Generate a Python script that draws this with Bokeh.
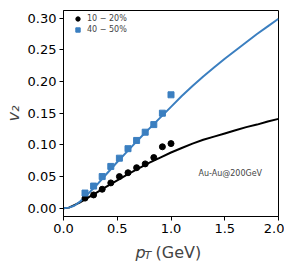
from bokeh.plotting import figure
from bokeh.models import Range1d, Legend, LegendItem, Label, FixedTicker, NumeralTickFormatter
from bokeh.embed import file_html
from bokeh.resources import INLINE

# data points
pt_pts = [0.20, 0.28, 0.36, 0.44, 0.52, 0.60, 0.68, 0.76, 0.84, 0.92, 1.00]
v2_1020 = [0.016, 0.021, 0.030, 0.040, 0.050, 0.056, 0.064, 0.070, 0.080, 0.097, 0.102]
v2_4050 = [0.024, 0.035, 0.050, 0.066, 0.079, 0.094, 0.107, 0.120, 0.132, 0.150, 0.179]

# model curves
pt_curve = [0.0, 0.05, 0.1, 0.15, 0.2, 0.3, 0.4, 0.5, 0.6, 0.7, 0.8, 0.9, 1.0,
            1.1, 1.2, 1.3, 1.4, 1.5, 1.6, 1.7, 1.8, 1.9, 2.0]
curve_4050 = [0.0, 0.001, 0.004, 0.010, 0.018, 0.035, 0.054, 0.073, 0.091, 0.109, 0.126, 0.143, 0.160,
              0.177, 0.193, 0.208, 0.222, 0.236, 0.249, 0.262, 0.275, 0.287, 0.299]
curve_1020 = [0.0, 0.001, 0.005, 0.009, 0.014, 0.024, 0.034, 0.044, 0.054, 0.063, 0.072, 0.080, 0.088,
              0.095, 0.102, 0.108, 0.113, 0.118, 0.123, 0.128, 0.132, 0.137, 0.141]

x_ticks = [0.0, 0.5, 1.0, 1.5, 2.0]
y_ticks = [0.00, 0.05, 0.10, 0.15, 0.20, 0.25, 0.30]

BLUE = "#3b7fc0"
FONT = "DejaVu Sans"

p = figure(output_backend="svg", toolbar_location=None,
           frame_width=215, frame_height=206,
           min_border_left=62, min_border_right=6, min_border_top=10, min_border_bottom=41,
           x_range=Range1d(0, 2.0), y_range=Range1d(-0.013, 0.312))
p.background_fill_color = "white"
p.border_fill_color = "white"
p.outline_line_color = "black"
p.outline_line_width = 1
p.grid.visible = False

for ax in (p.xaxis[0], p.yaxis[0]):
    ax.axis_line_color = "black"
    ax.major_tick_line_color = "black"
    ax.major_tick_in = 0
    ax.major_tick_out = 4
    ax.minor_tick_line_color = None
    ax.major_label_text_font = FONT
    ax.major_label_text_font_size = "13px"
    ax.major_label_text_color = "black"
    ax.major_label_standoff = 3

p.xaxis.ticker = FixedTicker(ticks=x_ticks)
p.yaxis.ticker = FixedTicker(ticks=y_ticks)
p.xaxis.formatter = NumeralTickFormatter(format="0.0")
p.yaxis.formatter = NumeralTickFormatter(format="0.00")

p.yaxis.axis_label = "v₂"
p.yaxis.axis_label_text_font = FONT
p.yaxis.axis_label_text_font_style = "italic"
p.yaxis.axis_label_text_font_size = "16px"
p.yaxis.axis_label_standoff = 2

l1 = p.line(pt_curve, curve_1020, line_color="black", line_width=2)
l2 = p.line(pt_curve, curve_4050, line_color=BLUE, line_width=2)
s1 = p.scatter(pt_pts, v2_1020, marker="circle", size=6, fill_color="black", line_color="black")
s2 = p.scatter(pt_pts, v2_4050, marker="square", size=6, fill_color=BLUE, line_color=BLUE)

legend = Legend(items=[LegendItem(label="10 − 20%", renderers=[s1]),
                       LegendItem(label="40 − 50%", renderers=[s2])],
                location=(7, 179), margin=0, padding=2, spacing=0,
                glyph_width=11, glyph_height=11, label_height=11,
                label_standoff=4, label_text_font=FONT, label_text_font_size="8px",
                border_line_alpha=0, background_fill_alpha=0)
p.add_layout(legend)

p.add_layout(Label(x=1.255, y=0.055, text="Au-Au@200GeV", text_font=FONT,
                   text_font_size="8px", text_baseline="middle", text_align="left"))

# x axis label: p_T (GeV), in the panel below the frame (canvas units)
p.add_layout(Label(x=135, y=252, x_units="canvas", y_units="canvas", text="p", text_font=FONT,
                   text_font_style="italic", text_font_size="16px", text_baseline="alphabetic"), "below")
p.add_layout(Label(x=144, y=255, x_units="canvas", y_units="canvas", text="T", text_font=FONT,
                   text_font_style="italic", text_font_size="11px", text_baseline="alphabetic"), "below")
p.add_layout(Label(x=155, y=252, x_units="canvas", y_units="canvas", text="(GeV)", text_font=FONT,
                   text_font_size="16px", text_baseline="alphabetic"), "below")

open("out.html", "w").write(file_html(p, INLINE))
